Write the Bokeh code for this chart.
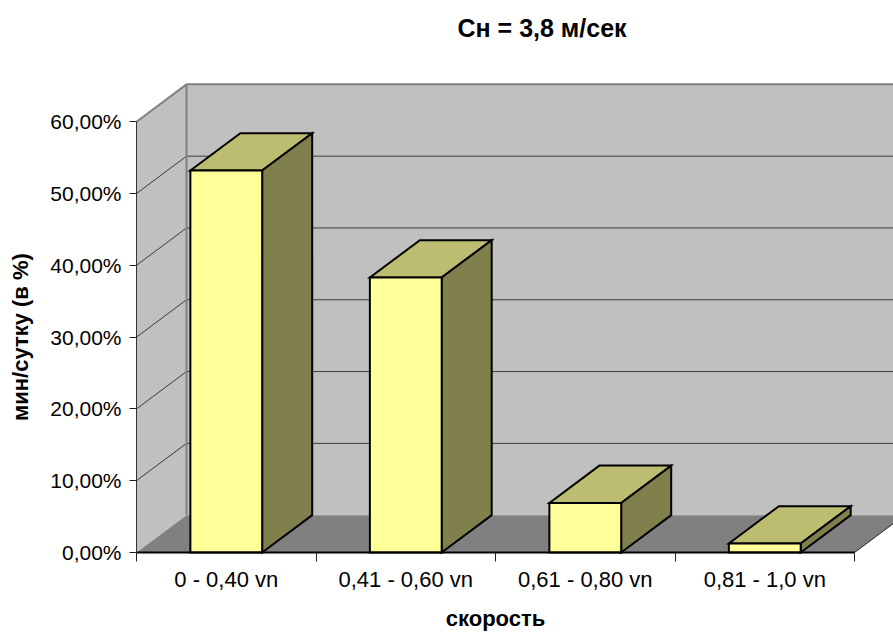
from bokeh.plotting import figure
from bokeh.models import FixedTicker
from bokeh.core.properties import value
from bokeh.embed import file_html
from bokeh.resources import INLINE
import math

categories = ["0 - 0,40 vn", "0,41 - 0,60 vn", "0,61 - 0,80 vn", "0,81 - 1,0 vn"]
values = [53.2, 38.3, 6.9, 1.25]
y_ticks = [0, 10, 20, 30, 40, 50, 60]
y_tick_labels = ["0,00%", "10,00%", "20,00%", "30,00%", "40,00%", "50,00%", "60,00%"]
title_text = "Сн = 3,8 м/сек"
x_title = "скорость"
y_title = "мин/сутку (в %)"

FONT = "Liberation Sans"
DX = 0.2786   # depth of the pseudo-3D box, category units
DY = 5.2      # depth of the pseudo-3D box, percent units
BAR_L, BAR_W = 0.30, 0.40
N = len(categories)

p = figure(width=893, height=632, x_range=(-0.7577, 4.217), y_range=(-11.142, 71.03),
           output_backend="svg", toolbar_location=None,
           min_border_left=0, min_border_right=0, min_border_top=42, min_border_bottom=0)
p.outline_line_color = None
p.grid.visible = False

WALL, FLOOR, EDGE, GRID = "#C0C0C0", "#808080", "#808080", "#3A3A3A"
FRONT, TOP, SIDE = "#FFFF99", "#BDBD72", "#80804C"

top = y_ticks[-1]
p.patch([0, DX, DX, 0], [0, DY, top + DY, top], fill_color=WALL, line_color=None)
p.patch([DX, N + 1, N + 1, DX], [DY, DY, top + DY, top + DY], fill_color=WALL, line_color=None)
p.patch([0, N, N + DX, N + 1, N + 1, DX], [0, 0, DY, DY, DY, DY], fill_color=FLOOR, line_color=None)

for t in y_ticks[1:-1]:
    p.line([0, DX, N + 1], [t, t + DY, t + DY], line_color=GRID, line_width=1)

p.line([0, DX, N + 1], [top, top + DY, top + DY], line_color=EDGE, line_width=2)
p.line([DX, DX], [DY, top + DY], line_color=EDGE, line_width=2)
p.line([N, N + DX * 1.2], [0, DY * 1.2], line_color="#222222", line_width=1)

xl = [i + BAR_L for i in range(N)]
xr = [x + BAR_W for x in xl]
p.patches([[a, a + DX, b + DX, b] for a, b in zip(xl, xr)],
          [[v, v + DY, v + DY, v] for v in values],
          fill_color=TOP, line_color="black", line_width=2, line_join="miter")
p.patches([[b, b + DX, b + DX, b] for b in xr],
          [[0, DY, v + DY, v] for v in values],
          fill_color=SIDE, line_color="black", line_width=2, line_join="miter")
p.quad(left=xl, right=xr, bottom=[0] * N, top=values,
       fill_color=FRONT, line_color="black", line_width=2, line_join="miter")

p.title.text = title_text
p.title.align = "left"
p.title.offset = 457
p.title.standoff = 1
p.title.text_font = FONT
p.title.text_font_size = "25px"
p.title.text_font_style = "bold"
p.title.text_color = "black"

xa = p.xaxis[0]
xa.fixed_location = 0
xa.bounds = (0, N)
xa.ticker = FixedTicker(ticks=[i + 0.5 for i in range(N)], minor_ticks=list(range(N + 1)))
xa.major_label_overrides = {i + 0.5: c for i, c in enumerate(categories)}
xa.major_tick_line_color = None
xa.minor_tick_line_color = "#222222"
xa.minor_tick_in = 0
xa.minor_tick_out = 9
xa.major_tick_out = 9
xa.major_tick_in = 0
xa.axis_line_color = "black"
xa.axis_line_width = 2
xa.major_label_standoff = 6
xa.major_label_text_font = FONT
xa.major_label_text_font_size = "22px"
xa.major_label_text_color = "black"

ya = p.yaxis[0]
ya.fixed_location = 0
ya.bounds = (0, top)
ya.ticker = FixedTicker(ticks=y_ticks)
ya.major_label_overrides = dict(zip(y_ticks, y_tick_labels))
ya.minor_tick_line_color = None
ya.major_tick_in = 0
ya.major_tick_out = 7
ya.major_tick_line_color = "#222222"
ya.axis_line_color = "#333333"
ya.axis_line_width = 1
ya.major_label_standoff = 8
ya.major_label_text_font = FONT
ya.major_label_text_font_size = "21px"
ya.major_label_text_color = "black"

p.text(x=[N / 2], y=[-9.15], text=[x_title], text_align="center", text_baseline="middle",
       text_font=value(FONT), text_font_size="22px", text_font_style="bold", text_color="black")
p.text(x=[-0.645], y=[top / 2], text=[y_title], angle=math.pi / 2, text_align="center",
       text_baseline="middle", text_font=value(FONT), text_font_size="22px",
       text_font_style="bold", text_color="black")

open("out.html", "w").write(file_html(p, INLINE))
